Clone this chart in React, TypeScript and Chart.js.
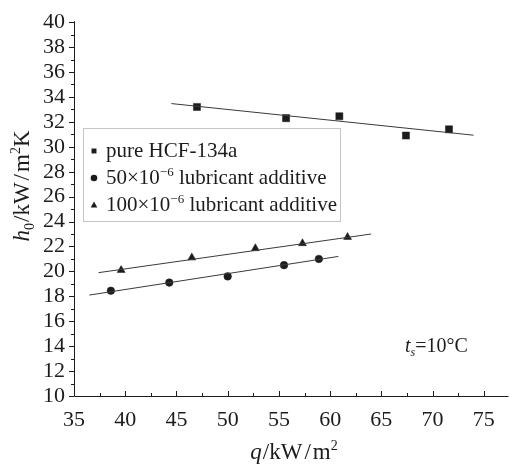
import React, { useEffect, useRef } from 'react';
import { Chart, registerables } from 'chart.js';

Chart.register(...registerables);

// ---- data ----
const pureQ = [47.0, 55.7, 60.9, 67.4, 71.6];
const pureH = [33.2, 32.3, 32.45, 30.9, 31.4];
const add50Q = [38.6, 44.3, 50.0, 55.5, 58.9];
const add50H = [18.45, 19.1, 19.6, 20.5, 21.0];
const add100Q = [39.6, 46.5, 52.7, 57.3, 61.7];
const add100H = [20.1, 21.1, 21.85, 22.25, 22.75];

const pureFitQ = [44.5, 74.0];
const pureFitH = [33.47, 30.93];
const add50FitQ = [36.5, 60.8];
const add50FitH = [18.1, 21.2];
const add100FitQ = [37.4, 64.0];
const add100FitH = [19.9, 23.0];

const xTicks = [35, 40, 45, 50, 55, 60, 65, 70, 75];
const yTicks = [10, 12, 14, 16, 18, 20, 22, 24, 26, 28, 30, 32, 34, 36, 38, 40];

const legendLabels = [
  { pre: 'pure HCF-134a', sup: '', post: '', marker: 'rect' },
  { pre: '50\u00d710', sup: '\u22126', post: ' lubricant additive', marker: 'circle' },
  { pre: '100\u00d710', sup: '\u22126', post: ' lubricant additive', marker: 'triangle' },
];

const FONT = "'Liberation Serif', 'Times New Roman', serif";
const INK = '#1c1c1c';
const LINE = '#3a3a3a';

type Piece = { t: string; italic?: boolean; sub?: boolean; sup?: boolean; gap?: number };

function drawRich(ctx: CanvasRenderingContext2D, pieces: Piece[], size: number, x: number, y: number, align: 'left' | 'center') {
  const fontFor = (p: Piece) =>
    `${p.italic ? 'italic ' : ''}${p.sub || p.sup ? Math.round(size * 0.62) : size}px ${FONT}`;
  let total = 0;
  for (const p of pieces) {
    ctx.font = fontFor(p);
    total += ctx.measureText(p.t).width + (p.gap || 0);
  }
  let cx = align === 'center' ? x - total / 2 : x;
  ctx.textBaseline = 'alphabetic';
  ctx.textAlign = 'left';
  for (const p of pieces) {
    ctx.font = fontFor(p);
    const dy = p.sub ? size * 0.22 : p.sup ? -size * 0.4 : 0;
    ctx.fillText(p.t, cx, y + dy);
    cx += ctx.measureText(p.t).width + (p.gap || 0);
  }
}

function marker(ctx: CanvasRenderingContext2D, kind: string, x: number, y: number, r: number) {
  ctx.beginPath();
  if (kind === 'rect') {
    ctx.rect(x - r * 0.75, y - r * 0.75, r * 1.5, r * 1.5);
  } else if (kind === 'circle') {
    ctx.arc(x, y, r, 0, Math.PI * 2);
  } else {
    ctx.moveTo(x, y - r * 1.05);
    ctx.lineTo(x + r * 1.0, y + r * 0.75);
    ctx.lineTo(x - r * 1.0, y + r * 0.75);
    ctx.closePath();
  }
  ctx.fill();
}

const decorPlugin = {
  id: 'decor',
  afterDraw(chart: any) {
    const ctx: CanvasRenderingContext2D = chart.ctx;
    const xs = chart.scales.x;
    const ys = chart.scales.y;
    const { left, right, bottom } = chart.chartArea;
    const top = ys.getPixelForValue(yTicks[yTicks.length - 1]);
    ctx.save();
    ctx.strokeStyle = INK;
    ctx.lineWidth = 1;
    // axis lines
    ctx.beginPath();
    ctx.moveTo(left + 0.5, top - 1);
    ctx.lineTo(left + 0.5, bottom + 0.5);
    ctx.lineTo(right, bottom + 0.5);
    ctx.stroke();
    // y ticks (outward), major every 2, minor every 1
    ctx.beginPath();
    for (let i = 0; i < yTicks.length; i++) {
      const v = yTicks[i];
      const py = Math.round(ys.getPixelForValue(v)) + 0.5;
      ctx.moveTo(left - 5, py);
      ctx.lineTo(left, py);
      if (i < yTicks.length - 1) {
        const mv = (v + yTicks[i + 1]) / 2;
        const pm = Math.round(ys.getPixelForValue(mv)) + 0.5;
        ctx.moveTo(left - 3, pm);
        ctx.lineTo(left, pm);
      }
    }
    // x ticks (inward)
    for (let i = 0; i < xTicks.length; i++) {
      const v = xTicks[i];
      const px = Math.round(xs.getPixelForValue(v)) + 0.5;
      ctx.moveTo(px, bottom);
      ctx.lineTo(px, bottom - 5);
      const mv = i < xTicks.length - 1 ? (v + xTicks[i + 1]) / 2 : v + (xTicks[1] - xTicks[0]) / 2;
      const pm = Math.round(xs.getPixelForValue(mv)) + 0.5;
      if (pm < right) {
        ctx.moveTo(pm, bottom);
        ctx.lineTo(pm, bottom - 3);
      }
    }
    ctx.stroke();

    // axis titles
    ctx.fillStyle = INK;
    drawRich(
      ctx,
      [{ t: 'q', italic: true, gap: 1 }, { t: '/kW', gap: 2 }, { t: '/', gap: 2 }, { t: 'm' }, { t: '2', sup: true }],
      23,
      294,
      459,
      'center'
    );
    ctx.save();
    ctx.translate(21, 186);
    ctx.rotate(-Math.PI / 2);
    drawRich(
      ctx,
      [{ t: 'h', italic: true }, { t: '0', sub: true, gap: 1 }, { t: '/kW', gap: 2 }, { t: '/', gap: 2 }, { t: 'm' }, { t: '2', sup: true }, { t: 'K' }],
      23,
      0,
      8,
      'center'
    );
    ctx.restore();

    // annotation t_s = 10 °C
    drawRich(ctx, [{ t: 't', italic: true }, { t: 's', italic: true, sub: true }, { t: '=10\u00b0C' }], 20, 405, 352, 'left');

    // legend box
    ctx.save();
    ctx.strokeStyle = '#8a8a8a';
    ctx.setLineDash([1, 1]);
    ctx.strokeRect(83.5, 128.5, 257, 93);
    ctx.restore();
    const rowY = [150, 177, 204];
    for (let i = 0; i < legendLabels.length; i++) {
      const L = legendLabels[i];
      ctx.fillStyle = INK;
      marker(ctx, L.marker, 94, rowY[i] + 1, L.marker === 'rect' ? 3.3 : 3.3);
      const pieces: Piece[] = [{ t: L.pre }];
      if (L.sup) pieces.push({ t: L.sup, sup: true });
      if (L.post) pieces.push({ t: L.post });
      drawRich(ctx, pieces, 21, 106, rowY[i] + 7, 'left');
    }
    ctx.restore();
  },
};

function pts(xa: number[], ya: number[]) {
  return xa.map((x, i) => ({ x, y: ya[i] }));
}

export default function App() {
  const ref = useRef<HTMLCanvasElement | null>(null);
  useEffect(() => {
    document.body.style.margin = '0';
    const canvas = ref.current;
    if (!canvas) return;
    const lineDs = (label: string, xa: number[], ya: number[]) => ({
      label,
      data: pts(xa, ya),
      showLine: true,
      borderColor: LINE,
      borderWidth: 1,
      pointRadius: 0,
      fill: false,
    });
    const markDs = (label: string, xa: number[], ya: number[], style: string, r: number) => ({
      label,
      data: pts(xa, ya),
      showLine: false,
      pointStyle: style,
      pointRadius: r,
      pointBackgroundColor: INK,
      pointBorderColor: INK,
      pointBorderWidth: 0.5,
    });
    const chart = new Chart(canvas, {
      type: 'scatter',
      data: {
        datasets: [
          lineDs('pure fit', pureFitQ, pureFitH),
          lineDs('50 fit', add50FitQ, add50FitH),
          lineDs('100 fit', add100FitQ, add100FitH),
          markDs('pure HCF-134a', pureQ, pureH, 'rect', 5),
          markDs('50e-6 lubricant additive', add50Q, add50H, 'circle', 3.8),
          markDs('100e-6 lubricant additive', add100Q, add100H, 'triangle', 4.6),
        ] as any,
      },
      options: {
        animation: false,
        responsive: false,
        devicePixelRatio: 1,
        layout: { padding: { top: 22, right: 0, left: 0, bottom: 0 } },
        plugins: { legend: { display: false }, tooltip: { enabled: false } },
        scales: {
          x: {
            type: 'linear',
            min: 35,
            max: 77.41,
            grid: { display: false, drawTicks: false },
            border: { display: false },
            afterBuildTicks: (s: any) => {
              s.ticks = xTicks.map((v) => ({ value: v }));
            },
            afterFit: (s: any) => {
              s.height = 72;
            },
            ticks: {
              padding: 11,
              color: INK,
              font: { family: FONT, size: 22 },
              maxRotation: 0,
              autoSkip: false,
            },
          },
          y: {
            type: 'linear',
            min: 10,
            max: 40,
            grid: { display: false, drawTicks: false },
            border: { display: false },
            afterBuildTicks: (s: any) => {
              s.ticks = yTicks.map((v) => ({ value: v }));
            },
            afterFit: (s: any) => {
              s.width = 74;
            },
            ticks: {
              padding: 9,
              color: INK,
              font: { family: FONT, size: 22 },
              autoSkip: false,
            },
          },
        },
      } as any,
      plugins: [decorPlugin],
    });
    return () => chart.destroy();
  }, []);
  return (
    <div style={{ position: 'absolute', left: 0, top: 0, width: 514, height: 468 }}>
      <canvas ref={ref} width={514} height={468} style={{ display: 'block', width: 514, height: 468 }} />
    </div>
  );
}
